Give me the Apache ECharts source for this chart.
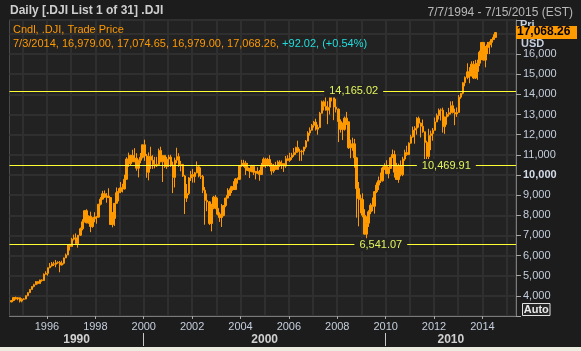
<!DOCTYPE html>
<html><head><meta charset="utf-8">
<script src="https://cdn.jsdelivr.net/npm/echarts@6/dist/echarts.min.js"></script>
<style>html,body{margin:0;padding:0;background:#1c1c1c;overflow:hidden}#c{width:581px;height:351px}</style>
</head><body><div id="c"></div><script>
// Monthly bars of .DJI, starting July 1994
const startYear = 1994, startMonth = 7;
const open = [
3700,3765,3913,3843,3908,3739,
3834,3843,4011,4158,4321,4465,4556,4708,4611,4789,4756,5075,
5117,5395,5485,5587,5569,5643,5655,5529,5616,5882,6029,6522,
6448,6813,6878,6584,7009,7331,7673,8223,7622,7945,7442,7823,
7908,7907,8546,8800,9063,8900,8952,8883,7539,7843,8592,9117,
9181,9359,9307,9786,10789,10560,10971,10655,10829,10337,10729,10878,
11497,10941,10128,10922,10734,10522,10448,10522,11215,10651,10971,10415,
10788,10887,10495,9879,10735,10912,10502,10523,9950,8848,9075,9852,
10021,9920,10106,10404,9946,9925,9243,8737,8664,7592,8397,8896,
8342,8054,7891,7992,8480,8850,8985,9234,9416,9275,9801,9782,
10454,10488,10584,10358,10226,10188,10435,10140,10174,10080,10027,10428,
10783,10490,10766,10504,10193,10467,10275,10641,10482,10569,10440,10806,
10718,10865,10993,11109,11367,11168,11150,11186,11381,11679,12081,12222,
12463,12622,12269,12354,13063,13628,13409,13212,13358,13896,13930,13372,
13265,12650,12266,12263,12820,12638,11350,11378,11544,10851,9325,8829,
8776,8001,7063,7609,8168,8500,8447,9172,9496,9712,9713,10345,
10428,10067,10325,10857,11009,10137,9774,10466,10015,10788,11118,11006,
11578,11892,12226,12320,12811,12570,12414,12143,11614,10913,11955,12046,
12218,12633,12952,13212,13214,12393,12880,13009,13091,13437,13096,13026,
13104,13861,14054,14579,14840,15116,14910,15500,14810,15130,15546,16086,
16577,15699,16322,16458,16581,16717,16827];
const high = [
3780,3930,3960,3940,3920,3880,
3880,4020,4170,4330,4470,4600,4730,4720,4800,4820,5110,5220,
5400,5630,5680,5690,5780,5720,5730,5740,5900,6100,6550,6580,
6880,7040,7100,7020,7390,7800,8260,8300,8000,8180,7900,8150,
7950,8560,8900,9210,9230,9100,9340,8900,8160,8600,9380,9340,
9650,9560,10010,10880,11110,11000,11250,11330,11080,10760,11090,11500,
11750,11040,11120,11400,10980,10900,10900,11310,11400,10980,10980,10900,
11000,11000,10660,10860,11350,11080,10700,10550,10000,9550,9900,10200,
10300,10150,10670,10470,10370,10000,9400,9080,8700,8570,8960,9000,
8870,8150,8560,8510,8870,9340,9330,9460,9690,9850,9880,10460,
10750,10750,10700,10600,10350,10500,10500,10200,10380,10250,10600,10870,
10850,10850,10980,10600,10550,10650,10720,10730,10720,10580,10940,10980,
11100,11100,11340,11400,11700,11300,11250,11400,11730,12170,12360,12530,
12680,12790,12500,13130,13690,13700,14020,13660,14000,14200,13950,13780,
13300,12760,12600,12900,13130,12650,11750,11850,11790,10900,9650,9030,
9090,8300,7950,8250,8600,8880,9200,9630,9920,10120,10410,10580,
10730,10400,10900,11260,11210,10600,10560,10720,10900,11250,11450,11620,
12000,12400,12420,12870,12900,12600,12750,12150,11700,12290,12200,12330,
12850,13050,13300,13300,13340,12900,13120,13330,13650,13660,13290,13350,
13970,14060,14600,14890,15540,15350,15640,15660,15710,15720,16170,16590,
16590,16400,16600,16630,16740,16980,17075];
const low = [
3680,3740,3830,3780,3670,3680,
3800,3830,3980,4150,4310,4420,4550,4570,4600,4700,4750,5050,
5000,5370,5450,5480,5420,5590,5170,5500,5560,5880,6020,6250,
6440,6750,6580,6390,6970,7250,7650,7600,7580,7160,7380,7650,
7580,7900,8490,8780,8860,8620,8850,7530,7400,7470,8580,8690,
9100,9130,9280,9750,10400,10470,10650,10640,10210,9880,10580,10820,
10700,9860,9730,10300,10300,10330,10400,10480,10630,9650,10350,10300,
10400,10400,9100,9380,10580,10400,10180,9900,8060,8660,9000,9700,
9620,9620,10080,9880,9800,9100,7530,8200,7520,7200,8300,8300,
7990,7670,7420,7950,8400,8850,8970,9100,9270,9270,9570,9750,
10400,10400,10000,10200,9850,10130,10000,9780,10050,9710,10000,10420,
10350,10420,10400,10010,10100,10250,10250,10400,10300,10150,10350,10700,
10650,10750,10900,11000,11100,10700,10700,11000,11300,11670,11950,12200,
12350,12200,12000,12350,13050,13200,13200,12520,13000,13650,12720,13100,
11630,12100,11730,12200,12480,11290,10830,11200,10360,7880,7450,8100,
7900,7050,6470,7420,8050,8200,8080,9100,9250,9600,9670,10250,
10030,9830,10300,10850,9870,9750,9610,9930,9940,10700,10950,10990,
11550,11850,11550,12000,12350,11860,12090,10600,10600,10400,11230,11700,
12200,12620,12750,12700,12100,12040,12490,12900,13000,13050,12470,12880,
13100,13780,14000,14400,14750,14550,14900,14760,14760,14720,15400,15700,
15680,15340,16000,16000,16330,16700,16820];
const close = [
3765,3913,3843,3908,3739,3834,
3843,4011,4158,4321,4465,4556,4708,4611,4789,4756,5075,5117,
5395,5485,5587,5569,5643,5655,5529,5616,5882,6029,6522,6448,
6813,6878,6584,7009,7331,7673,8223,7622,7945,7442,7823,7908,
7907,8546,8800,9063,8900,8952,8883,7539,7843,8592,9117,9181,
9359,9307,9786,10789,10560,10971,10655,10829,10337,10729,10878,11497,
10941,10128,10922,10734,10522,10448,10522,11215,10651,10971,10415,10788,
10887,10495,9879,10735,10912,10502,10523,9950,8848,9075,9852,10021,
9920,10106,10404,9946,9925,9243,8737,8664,7592,8397,8896,8342,
8054,7891,7992,8480,8850,8985,9234,9416,9275,9801,9782,10454,
10488,10584,10358,10226,10188,10435,10140,10174,10080,10027,10428,10783,
10490,10766,10504,10193,10467,10275,10641,10482,10569,10440,10806,10718,
10865,10993,11109,11367,11168,11150,11186,11381,11679,12081,12222,12463,
12622,12269,12354,13063,13628,13409,13212,13358,13896,13930,13372,13265,
12650,12266,12263,12820,12638,11350,11378,11544,10851,9325,8829,8776,
8001,7063,7609,8168,8500,8447,9172,9496,9712,9713,10345,10428,
10067,10325,10857,11009,10137,9774,10466,10015,10788,11118,11006,11578,
11892,12226,12320,12811,12570,12414,12143,11614,10913,11955,12046,12218,
12633,12952,13212,13214,12393,12880,13009,13091,13437,13096,13026,13104,
13861,14054,14579,14840,15116,14910,15500,14810,15130,15546,16086,16577,
15699,16322,16458,16581,16717,16827,17068];

const yearTicks = [1996,1998,2000,2002,2004,2006,2008,2010,2012,2014];
const gridYears = [1995,1996,1997,1998,1999,2000,2001,2002,2003,2004,2005,2006,2007,2008,2009,2010,2011,2012,2013,2014,2015];
const decadeNames = ['1990','2000','2010'];
const decadeBounds = [2000, 2010];
const refLevels = [14165.02, 10469.91, 6541.07];
const lastBar = {date:'7/3/2014', open:16979.00, high:17074.65, low:16979.00, close:17068.26, change:92.02, pct:0.54};

const FONT = 'Liberation Sans, Arial, sans-serif';
const X_MIN = 1994.45, X_MAX = 2015.39;
const ORANGE = '#ff9900';

const data = close.map((c, i) => {
  const m = startMonth - 1 + i;
  const x = startYear + Math.floor(m / 12) + ((m % 12) + 0.5) / 12;
  return [x, open[i], c, low[i], high[i]];
});
const edges = [X_MIN].concat(decadeBounds, [X_MAX]);
const decadeCenters = decadeNames.map((d, i) => (edges[i] + edges[i + 1]) / 2);
const fmt2 = v => v.toLocaleString('en-US', {minimumFractionDigits: 2, maximumFractionDigits: 2});

const chart = echarts.init(document.getElementById('c'), null, {renderer: 'canvas'});
const option = {
  animation: false,
  backgroundColor: '#1c1c1c',
  grid: {left: 9.5, right: 65, top: 20, bottom: 35, show: true, backgroundColor: '#222222', borderColor: '#4a4a4a', borderWidth: 1, containLabel: false},
  xAxis: [
    {type: 'value', min: X_MIN, max: X_MAX, position: 'bottom',
      axisLine: {show: true, lineStyle: {color: '#7a7a7a'}},
      axisTick: {show: true, customValues: yearTicks, length: 3, lineStyle: {color: '#a8a8a8'}},
      axisLabel: {customValues: yearTicks, color: '#c4cedc', fontSize: 11, fontFamily: FONT, margin: 5, formatter: v => String(Math.round(v))},
      splitLine: {show: false}},
    {type: 'value', min: X_MIN, max: X_MAX, position: 'bottom',
      axisLine: {show: false}, axisTick: {show: false, customValues: gridYears}, axisLabel: {show: false},
      splitLine: {show: true, lineStyle: {color: '#2f2f2f', width: 2}}},
    {type: 'value', min: X_MIN, max: X_MAX, position: 'bottom', offset: 17,
      axisLine: {show: false},
      axisTick: {show: true, customValues: decadeBounds, length: 13, lineStyle: {color: '#c8c8c8'}},
      axisLabel: {customValues: decadeCenters, color: '#d0d0d0', fontSize: 12, fontWeight: 'bold', fontFamily: FONT, margin: 1,
        formatter: v => { let k = 0, best = 1e9; decadeCenters.forEach((c, i) => { if (Math.abs(c - v) < best) { best = Math.abs(c - v); k = i; } }); return decadeNames[k]; }},
      splitLine: {show: false}}
  ],
  yAxis: [{type: 'value', position: 'right', min: 3000, max: 17690, interval: 1000,
    axisLine: {show: true, lineStyle: {color: '#7a7a7a'}},
    axisTick: {show: true, length: 5, lineStyle: {color: '#a8a8a8'}},
    axisLabel: {color: '#c4cedc', fontSize: 11, fontFamily: FONT, margin: 7,
      formatter: v => (v === 3000 || v >= 17000) ? '' : (v === 10000 ? '{b|10,000}' : v.toLocaleString('en-US')),
      rich: {b: {fontWeight: 'bold', color: '#d4dcea', fontSize: 11, fontFamily: FONT}}},
    splitLine: {show: true, lineStyle: {color: '#2f2f2f', width: 2}}}],
  series: [{
    type: 'candlestick', xAxisIndex: 0, yAxisIndex: 0, data: data,
    encode: {x: 0, y: [1, 2, 3, 4]},
    barWidth: 2,
    itemStyle: {color: ORANGE, color0: ORANGE, borderColor: ORANGE, borderColor0: ORANGE, borderWidth: 1},
    markLine: {silent: true, symbol: 'none', z: 5, label: {show: false},
      lineStyle: {color: '#ffff33', width: 1, type: 'solid'},
      data: refLevels.map(v => ({yAxis: v}))},
    markPoint: {silent: true, symbol: 'rect', symbolSize: 1, itemStyle: {color: 'rgba(0,0,0,0)'}, z: 6,
      label: {show: true, position: 'inside', color: '#e2f45a', fontSize: 11, fontFamily: FONT, backgroundColor: '#222222', padding: [1, 5],
        formatter: p => fmt2(p.data.coord[1])},
      data: [{coord: [2008.68, refLevels[0]]}, {coord: [2012.51, refLevels[1]]}, {coord: [2009.80, refLevels[2]]}]}
  }]
};
chart.setOption(option);

const yLast = chart.convertToPixel({yAxisIndex: 0}, lastBar.close);
const line2 = '{o|' + [lastBar.date, fmt2(lastBar.open), fmt2(lastBar.high), fmt2(lastBar.low), fmt2(lastBar.close)].join(', ') + ', }' +
  '{c|+' + fmt2(lastBar.change) + ', (+' + lastBar.pct.toFixed(2) + '%)}';
chart.setOption({graphic: [
  {type: 'text', left: 10, top: 5, style: {text: 'Daily [.DJI List 1 of 31] .DJI', fill: '#cfcfcf', font: 'bold 12px ' + FONT}},
  {type: 'text', x: 573, y: 13, style: {text: '7/7/1994 - 7/15/2015 (EST)', fill: '#b8b8b8', font: '12px ' + FONT, align: 'right', verticalAlign: 'middle'}},
  {type: 'text', x: 13, y: 30, style: {text: 'Cndl, .DJI, Trade Price', fill: ORANGE, font: '11px ' + FONT, verticalAlign: 'middle'}},
  {type: 'text', x: 13, y: 44, style: {text: line2, verticalAlign: 'middle', rich: {o: {fill: ORANGE, font: '11px ' + FONT}, c: {fill: '#22dddd', font: '11px ' + FONT}}}},
  {type: 'text', x: 520, y: yLast - 8, z: 10, style: {text: 'Pri', fill: '#c4cedc', font: 'bold 11px ' + FONT, verticalAlign: 'middle'}},
  {type: 'rect', z: 11, shape: {x: 516, y: Math.round(yLast) - 7, width: 61, height: 13}, style: {fill: ORANGE}},
  {type: 'text', x: 517, y: yLast - 0.5, z: 12, style: {text: fmt2(lastBar.close), fill: '#000', font: 'bold 12px ' + FONT, verticalAlign: 'middle'}},
  {type: 'text', x: 521, y: yLast + 11, z: 10, style: {text: 'USD', fill: '#c4cedc', font: 'bold 11px ' + FONT, verticalAlign: 'middle'}},
  {type: 'rect', z: 10, shape: {x: 522.5, y: 303.5, width: 27.5, height: 12}, style: {fill: '#262626', stroke: '#e0e0e0', lineWidth: 1}},
  {type: 'text', x: 536.25, y: 309.5, z: 11, style: {text: 'Auto', fill: '#e8e8e8', font: 'bold 11px ' + FONT, align: 'center', verticalAlign: 'middle'}},
  {type: 'rect', z: 10, shape: {x: 0, y: 347, width: 581, height: 4}, style: {fill: '#ebebdf'}}
]});
</script></body></html>
